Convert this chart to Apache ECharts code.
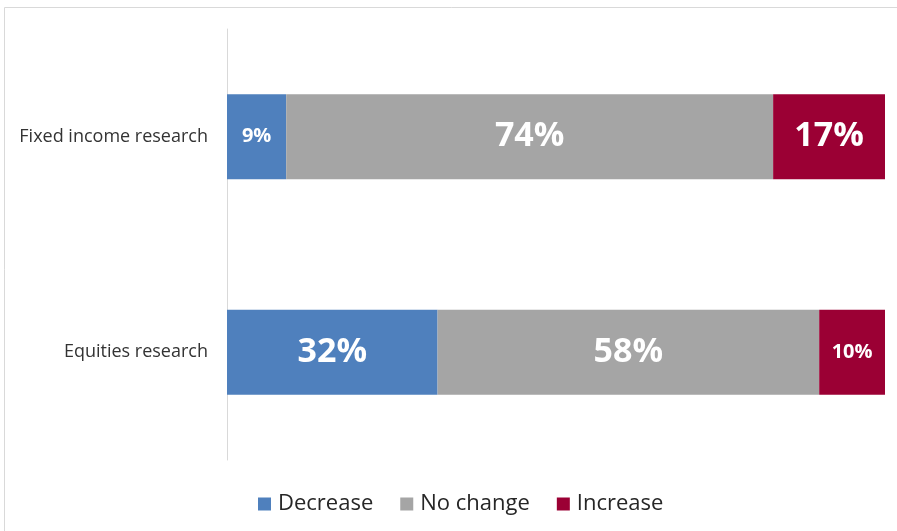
<!DOCTYPE html>
<html>
<head>
<meta charset="utf-8">
<script src="https://cdn.jsdelivr.net/npm/echarts@6/dist/echarts.min.js"></script>
<style>
  html, body { margin: 0; padding: 0; background: #fff; }
  #chart { width: 897px; height: 531px; }
</style>
</head>
<body>
<div id="chart"></div>
<script>
// Research budget expectations, share of respondents (%)
const categories = ['Equities research', 'Fixed income research'];
const decrease = [32, 9];
const noChange = [58, 74];
const increase = [10, 17];
const seriesNames = ['Decrease', 'No change', 'Increase'];
const colors = ['#4F80BD', '#A5A5A5', '#9B0034'];

const chart = echarts.init(document.getElementById('chart'));

function labelFor(v) {
  const small = v < 12;
  return {
    show: true,
    position: 'inside',
    formatter: '{c}%',
    color: '#ffffff',
    fontFamily: 'Open Sans',
    fontWeight: 'bold',
    fontSize: small ? 20 : 34
  };
}

function makeSeries(name, values, color) {
  return {
    name: name,
    type: 'bar',
    stack: 'total',
    barWidth: 85,
    itemStyle: { color: color },
    data: values.map(v => ({ value: v, label: labelFor(v) })),
    emphasis: { disabled: true }
  };
}

chart.setOption({
  animation: false,
  textStyle: { fontFamily: 'Open Sans' },
  graphic: [{
    type: 'rect',
    shape: { x: 4.5, y: 7.5, width: 920, height: 560 },
    style: { fill: 'none', stroke: '#d9d9d9', lineWidth: 1 },
    silent: true
  }],
  grid: { left: 227, right: 12, top: 29, bottom: 71 },
  legend: {
    bottom: 11,
    left: 253,
    itemWidth: 13,
    itemHeight: 13,
    itemGap: 27,
    icon: 'rect',
    textStyle: { fontFamily: 'Open Sans', fontSize: 22, color: '#262626', padding: [0, 0, 0, 2] },
    data: seriesNames
  },
  xAxis: {
    type: 'value',
    min: 0,
    max: 100,
    show: false
  },
  yAxis: {
    type: 'category',
    data: categories,
    axisLine: { show: true, lineStyle: { color: '#d9d9d9' } },
    axisTick: { show: false },
    axisLabel: { fontFamily: 'Open Sans', fontSize: 18, color: '#333333', margin: 19 }
  },
  series: [
    makeSeries(seriesNames[0], decrease, colors[0]),
    makeSeries(seriesNames[1], noChange, colors[1]),
    makeSeries(seriesNames[2], increase, colors[2])
  ]
});
</script>
</body>
</html>
